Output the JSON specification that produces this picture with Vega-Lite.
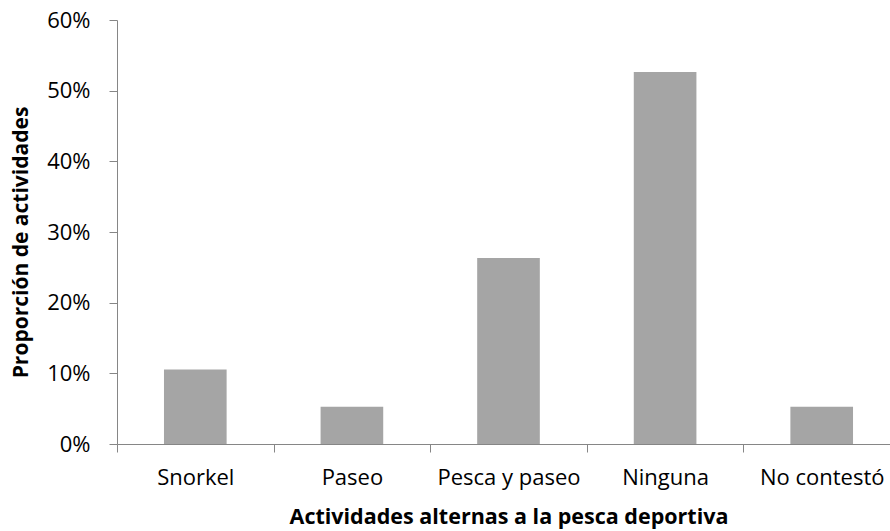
{
  "$schema": "https://vega.github.io/schema/vega-lite/v6.json",
  "autosize": {"type": "none"},
  "padding": {"left": 117, "top": 20, "right": 0, "bottom": 87},
  "width": 783,
  "height": 424,
  "data": {"values": [
    {"actividad": "Snorkel", "proporcion": 0.1053},
    {"actividad": "Paseo", "proporcion": 0.0526},
    {"actividad": "Pesca y paseo", "proporcion": 0.2632},
    {"actividad": "Ninguna", "proporcion": 0.5263},
    {"actividad": "No contestó", "proporcion": 0.0526}
  ]},
  "config": {
    "view": {"stroke": null},
    "font": "Open Sans"
  },
  "mark": {"type": "bar", "color": "#A5A5A5", "width": {"band": 0.4}},
  "encoding": {
    "x": {
      "field": "actividad", "type": "nominal", "sort": null,
      "scale": {"paddingInner": 0, "paddingOuter": 0},
      "axis": {
        "title": "Actividades alternas a la pesca deportiva",
        "titleFontSize": 21.5, "titleFontWeight": "bold", "titleColor": "#000000",
        "titlePadding": 18,
        "labelAngle": 0, "labelFontSize": 22, "labelColor": "#000000", "labelPadding": 15,
        "domainColor": "#868686", "tickColor": "#868686", "tickSize": 8,
        "tickBand": "extent", "grid": false
      }
    },
    "y": {
      "field": "proporcion", "type": "quantitative",
      "scale": {"domain": [0, 0.6]},
      "axis": {
        "title": "Proporción de actividades",
        "format": ".0%", "values": [0, 0.1, 0.2, 0.3, 0.4, 0.5, 0.6],
        "titleFontSize": 21, "titleFontWeight": "bold", "titleColor": "#000000",
        "titlePadding": 15, "titleY": 222,
        "labelFontSize": 22, "labelColor": "#000000", "labelPadding": 19,
        "domainColor": "#868686", "tickColor": "#868686", "tickSize": 8,
        "grid": false
      }
    }
  }
}
